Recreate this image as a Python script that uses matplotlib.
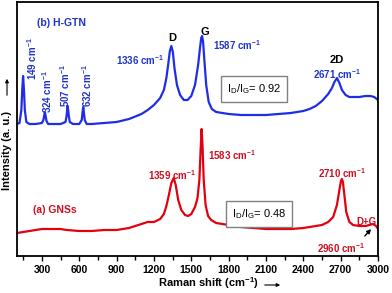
import matplotlib
matplotlib.use("Agg")
import matplotlib.pyplot as plt
from matplotlib.ticker import MultipleLocator

plt.rcParams['font.family'] = ['Liberation Sans', 'DejaVu Sans']
plt.rcParams['font.weight'] = 'bold'
plt.rcParams['mathtext.default'] = 'regular'

# H-GTN spectrum (blue), intensity in arbitrary units
hgtn_x = [100, 120, 135, 142, 149, 156, 163, 175, 200, 250, 300, 312, 318, 324, 330, 337,
          350, 400, 450, 490, 498, 503, 507, 511, 516, 524, 550, 600, 620, 626, 632, 638,
          644, 660, 700, 800, 900, 1000, 1100, 1150, 1200, 1250, 1280, 1300, 1315, 1328,
          1340, 1352, 1365, 1385, 1410, 1440, 1470, 1500, 1530, 1555, 1570, 1580, 1587,
          1595, 1605, 1620, 1640, 1665, 1700, 1800, 1900, 2000, 2100, 2200, 2300, 2400,
          2450, 2500, 2550, 2600, 2630, 2650, 2671, 2690, 2710, 2740, 2770, 2800, 2850,
          2900, 2940, 2970, 3000]
hgtn_y = [132, 133, 146, 166, 180, 166, 146, 134, 132, 132, 133, 136, 140, 144, 140, 135,
          132, 132, 132, 134, 140, 146, 150, 146, 140, 134, 132, 132, 136, 143, 149, 143,
          136, 132, 132, 133, 134, 137, 142, 146, 151, 158, 166, 178, 192, 205,
          210, 204, 188, 171, 161, 156, 156, 160, 171, 191, 208, 218, 220,
          214, 196, 171, 154, 147, 144, 142, 141, 141, 141, 142, 143, 145,
          147, 150, 155, 162, 168, 174, 178, 173, 166, 161, 159, 159, 159,
          160, 160, 159, 156]

# GNSs spectrum (red)
gns_x = [100, 150, 200, 250, 300, 350, 400, 450, 500, 600, 700, 800, 900, 1000, 1050, 1100,
         1150, 1200, 1250, 1280, 1300, 1320, 1340, 1359, 1375, 1395, 1420, 1450, 1475, 1500,
         1530, 1550, 1565, 1575, 1583, 1590, 1600, 1615, 1635, 1660, 1700, 1800, 1900, 2000,
         2100, 2200, 2300, 2400, 2450, 2500, 2550, 2600, 2640, 2670, 2690, 2702, 2710, 2718,
         2730, 2745, 2770, 2800, 2850, 2900, 2930, 2960, 2985, 3000]
gns_y = [23, 24, 25, 26, 27, 27, 27, 27, 26, 25, 25, 26, 26, 28, 30, 32,
         34, 34, 37, 42, 50, 61, 73, 78, 71, 56, 46, 41, 40, 42,
         49, 58, 76, 106, 127, 111, 76, 51, 40, 36, 33, 31, 29, 28,
         27, 27, 27, 28, 29, 30, 31, 34, 39, 51, 66, 75, 77, 74,
         61, 44, 34, 31, 30, 30, 31, 32, 30, 27]

xticks = [300, 600, 900, 1200, 1500, 1800, 2100, 2400, 2700, 3000]

blue = '#1f2de6'
red = '#e3000f'
blue_txt = '#1f33cc'
red_txt = '#cc1020'

fig = plt.figure(figsize=(3.92, 2.93), dpi=100)
ax = fig.add_axes([17/392, 1-256/293, 361/392, 254/293])
ax.plot(hgtn_x, hgtn_y, color=blue, lw=1.6)
ax.plot(gns_x, gns_y, color=red, lw=1.6)

ax.set_xlim(100, 3000)
ax.set_ylim(0, 254)
ax.set_xticks(xticks)
ax.xaxis.set_minor_locator(MultipleLocator(150))
ax.set_yticks([])
ax.tick_params(axis='x', which='major', direction='out', length=3.5, width=1,
               labelsize=7.5, pad=3)
ax.tick_params(axis='x', which='minor', direction='out', length=3, width=1)
for lab in ax.get_xticklabels():
    lab.set_fontweight('bold')
for s in ax.spines.values():
    s.set_linewidth(1.3)

fs = 7
# blue annotations
ax.text(461, 233, '(b) H-GTN', color=blue_txt, fontsize=7.5, ha='center', va='center')
ax.text(1345, 218, 'D', color='black', fontsize=8, ha='center', va='center')
ax.text(1610, 224, 'G', color='black', fontsize=8, ha='center', va='center')
ax.text(1088, 196, '1336 cm$^{-1}$', color=blue_txt, fontsize=fs, ha='center', va='center')
ax.text(1867, 211, '1587 cm$^{-1}$', color=blue_txt, fontsize=fs, ha='center', va='center')
ax.text(2670, 196, '2D', color='black', fontsize=8, ha='center', va='center')
ax.text(2670, 182, '2671 cm$^{-1}$', color=blue_txt, fontsize=fs, ha='center', va='center')
for xp, yp, t in [(220, 176, '149'), (341, 143, '324'), (486, 149, '507'), (662, 149, '632')]:
    ax.text(xp, yp, t + ' cm$^{-1}$', color=blue_txt, fontsize=fs, rotation=90,
            ha='center', va='bottom')
ax.text(2004, 167, 'I$_D$/I$_G$= 0.92', color='black', fontsize=8, fontweight='normal',
        ha='center', va='center',
        bbox=dict(boxstyle='square,pad=0.55', fc='white', ec='#808080', lw=1))

# red annotations
ax.text(405, 46, '(a) GNSs', color=red_txt, fontsize=7.5, ha='center', va='center')
ax.text(1345, 81, '1359 cm$^{-1}$', color=red_txt, fontsize=fs, ha='center', va='center')
ax.text(1827, 101, '1583 cm$^{-1}$', color=red_txt, fontsize=fs, ha='center', va='center')
ax.text(2711, 83, '2710 cm$^{-1}$', color=red_txt, fontsize=fs, ha='center', va='center')
ax.text(2904, 34, 'D+G', color=red_txt, fontsize=fs, ha='center', va='center')
ax.text(2703, 8, '2960 cm$^{-1}$', color=red_txt, fontsize=fs, ha='center', va='center')
ax.text(2044, 42, 'I$_D$/I$_G$= 0.48', color='black', fontsize=8, fontweight='normal',
        ha='center', va='center',
        bbox=dict(boxstyle='square,pad=0.55', fc='white', ec='#808080', lw=1))
ax.annotate('', xy=(2960, 29), xytext=(2879, 18),
            arrowprops=dict(arrowstyle='-|>', color='black', lw=1, mutation_scale=6))

# axis labels with arrows
fig.text(208/392, 1-283/293, 'Raman shift (cm$^{-1}$)', fontsize=8, ha='center', va='center')
fig.add_artist(matplotlib.patches.FancyArrowPatch((262/392, 1-285/293), (283/392, 1-285/293),
               transform=fig.transFigure, arrowstyle='-|>', mutation_scale=5, color='black', lw=0.8))
fig.text(7/392, 1-151/293, 'Intensity (a. u.)', fontsize=8, rotation=90, ha='center', va='center')
fig.add_artist(matplotlib.patches.FancyArrowPatch((7/392, 1-98/293), (7/392, 1-76/293),
               transform=fig.transFigure, arrowstyle='-|>', mutation_scale=5, color='black', lw=0.8))

fig.savefig('out.png', dpi=100)
